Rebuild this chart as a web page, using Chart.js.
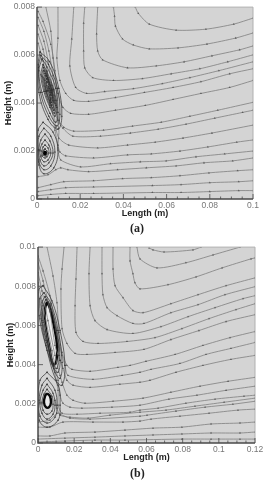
<!DOCTYPE html>
<html>
<head>
<meta charset="utf-8">
<script src="https://cdn.jsdelivr.net/npm/chart.js@4"></script>
<style>
body { margin: 0; background: #fff; width: 266px; height: 480px; overflow: hidden; position: relative; filter: blur(0.4px); }
.plot { position: absolute; left: 0; width: 266px; height: 240px; }
.cap { position: absolute; font: bold 12px "Liberation Serif"; color: #222; }
</style>
</head>
<body>
<div class="plot" style="top:0"><canvas id="chartA"></canvas></div>
<div class="plot" style="top:240px"><canvas id="chartB"></canvas></div>
<div class="cap" style="left:130px;top:221px">(a)</div>
<div class="cap" style="left:130px;top:466px">(b)</div>
<script>
// tick labels
const xTicksA = [0, 0.02, 0.04, 0.06, 0.08, 0.1];
const yTicksA = [0, 0.002, 0.004, 0.006, 0.008];
const xTicksB = [0, 0.02, 0.04, 0.06, 0.08, 0.1, 0.12];
const yTicksB = [0, 0.002, 0.004, 0.006, 0.008, 0.01];

// streamlines (a), [x values, y values]
const a1 = [[.0455,.0469,.052,.0644,.0782,.0911,.1],[.008,.00774,.00729,.00704,.00708,.00729,.00754]];
const a2 = [[.0354,.0359,.0363,.0396,.0446,.052,.0653,.0787,.092,.1],[.008,.00762,.00721,.00667,.00642,.00626,.0063,.00646,.00671,.00692]];
const a3 = [[.0281,.0276,.0281,.0304,.0419,.0552,.0681,.081,.0938,.1],[.008,.00688,.00617,.0058,.00547,.00555,.00572,.00597,.00622,.00638]];
const a4 = [[.0221,.0216,.0216,.0221,.0258,.0354,.0488,.0621,.0754,.0883,.1],[.008,.00733,.00617,.00547,.00506,.00494,.00502,.00522,.00543,.00572,.00601]];
const a5 = [[.017,.0161,.0152,.0179,.023,.0313,.0446,.058,.0708,.0842,.1],[.008,.00667,.00555,.00465,.0044,.00448,.0046,.00481,.00506,.00535,.00572]];
const a6 = [[.0097,.0097,.0092,.0106,.0133,.017,.0239,.0363,.0497,.063,.0759,.0892,.1],[.008,.00671,.00588,.00494,.0044,.00411,.00407,.00423,.00444,.00465,.00489,.00522,.00543]];
const a7 = [[.0041,.0064,.0074,.0097,.012,.0156,.0239,.0363,.0501,.063,.0759,.0892,.1],[.008,.007,.00588,.0044,.00382,.00357,.00353,.0037,.0039,.00415,.0044,.00465,.00494]];
const a8 = [[.0005,.0028,.0064,.0083,.0092,.0101,.0124,.017,.0308,.0442,.0575,.0708,.0837,.1],[.00782,.0074,.00645,.00535,.00411,.00328,.00299,.00283,.00287,.00304,.0032,.00345,.0037,.00403]];
const a9 = [[.0005,.0032,.0055,.0074,.0083,.0097,.012,.0166,.0294,.0432,.0561,.069,.0823,.0952,.1],[.00757,.00699,.00617,.00514,.00411,.00328,.00295,.00262,.00262,.00275,.00291,.00312,.00337,.00361,.0037]];
const a10 = [[.0005,.0032,.0051,.0069,.0078,.0087,.0101,.0147,.0281,.0419,.0547,.0676,.081,.1],[.00724,.00658,.00576,.00473,.0037,.00299,.00254,.00225,.00213,.00225,.00237,.00254,.00275,.00308]];
const a11 = [[.0005,.0028,.0046,.0064,.0083,.0097,.0106,.0133,.0262,.0419,.0529,.0662,.0791,.0925,.1],[.00687,.00625,.00535,.00411,.00287,.00225,.00196,.0018,.00171,.00184,.00188,.002,.00217,.00237,.00246]];
const a12 = [[.0005,.0028,.0064,.0101,.0097,.011,.0202,.034,.0478,.0598,.0736,.0869,.1],[.0065,.00576,.00432,.00295,.00213,.00163,.00134,.00147,.00155,.00159,.00176,.00188,.002]];
const a13 = [[.0005,.0051,.0087,.011,.0143,.0239,.0373,.0506,.0644,.0773,.0906,.1],[.00093,.00101,.00122,.0013,.00122,.00114,.00122,.0013,.00138,.00151,.00159,.00171]];
const a14 = [[.0005,.0064,.0124,.0262,.0396,.0529,.0662,.0796,.0929,.1],[.00047,.0006,.00072,.00076,.00085,.00089,.00097,.00109,.00118,.00122]];
const a15 = [[.0005,.0064,.0133,.0262,.0534,.0667,.08,.0934,.1],[.00031,.00039,.00047,.0005,.00056,.0006,.00068,.00072,.00076]];
const a16 = [[.0005,.0064,.0133,.0262,.0534,.0667,.08,.0934,.1],[.00014,.00019,.00023,.00023,.00027,.00027,.00031,.00035,.00035]];
const linesA = [a1,a2,a3,a4,a5,a6,a7,a8,a9,a10,a11,a12,a13,a14,a15,a16];

// closed rings of the two vortices (a)
const ra0 = [[.0018,.0053,.0094,.0106,.0092,.0055,.0016,.0007],[.00598,.00561,.00461,.00353,.00305,.00345,.00444,.00548]];
const ra1 = [[.0014,.0059,.0101,.0115,.0097,.0051,.0009,.0005],[.00613,.00572,.00461,.00345,.00291,.00332,.00444,.0056]];
const ra2 = [[.0023,.0046,.0087,.0097,.0087,.006,.0023,.0009],[.00584,.00551,.00461,.00361,.0032,.00357,.00444,.00535]];
const ra3 = [[.0028,.0046,.0078,.0092,.0083,.006,.0032,.0018],[.0056,.00531,.00456,.00382,.00345,.00382,.00448,.00518]];
const ra4 = [[.0032,.0046,.0069,.0083,.0078,.006,.0041,.0028],[.00535,.00514,.00456,.00399,.0037,.00399,.00448,.00506]];
const ra5 = [[.0041,.0051,.0067,.0074,.0069,.006,.0044,.0037],[.00514,.00498,.00454,.00411,.0039,.00411,.0045,.00494]];
const ra6 = [[.0046,.0055,.0062,.0069,.0064,.006,.0051,.0046],[.00489,.00477,.00452,.00432,.00415,.00432,.00452,.00473]];
const ra7 = [[.003,.0046,.0074,.0088,.008,.006,.0037,.0023],[.00548,.00522,.00456,.0039,.00358,.0039,.00448,.00512]];
const ra8 = [[.0037,.0049,.0068,.0078,.0074,.006,.0043,.0033],[.00524,.00506,.00455,.00405,.0038,.00405,.00449,.005]];
const ra9 = [[.0044,.0053,.0065,.0072,.0067,.006,.0048,.0042],[.00502,.00488,.00453,.00422,.00403,.00422,.00451,.00484]];
const ra10 = [[.0052,.0058,.0062,.0065,.0063,.006,.0055,.0052],[.00468,.0046,.00452,.00444,.00436,.00444,.00452,.0046]];
const rb1 = [[.0028,.0074,.0097,.0078,.0032,.0009,.0005,.0005],[.0032,.00279,.00204,.0013,.00105,.00142,.00204,.00287]];
const rb2 = [[.0032,.0064,.0083,.0064,.0032,.0009,.0005,.0009],[.00295,.00262,.00196,.00138,.00122,.00155,.00204,.00262]];
const rb3 = [[.0037,.006,.0074,.0055,.0032,.0014,.0009,.0018],[.00271,.00242,.00192,.00151,.00138,.00163,.00204,.00246]];
const rb4 = [[.0037,.0055,.0064,.0051,.0032,.0018,.0014,.0023],[.00246,.00225,.00192,.00163,.00155,.00176,.00204,.00229]];
const rb5 = [[.0037,.0051,.0055,.0046,.0037,.0023,.0023,.0028],[.00225,.00213,.00192,.00176,.00171,.0018,.002,.00217]];
const rb6 = [[.0037,.0046,.0046,.0041,.0037,.0028,.0028,.0032],[.00209,.002,.00188,.0018,.0018,.00184,.00196,.00204]];
const ringsA = [ra0,ra1,ra2,ra3,ra4,ra5,ra6,ra7,ra8,ra9,ra10,rb1,rb2,rb3,rb4,rb5,rb6];
const coreA = [[.0037],[.00192]];

// streamlines (b)
const m1 = [[.0614,.0636,.0697,.0857,.0901],[.00996,.00986,.00975,.00986,.01]];
const m2 = [[.0547,.0564,.0658,.0818,.0968,.1117],[.01,.0094,.00894,.0092,.0096,.01]];
const m3 = [[.0509,.0509,.0525,.0536,.0564,.0719,.0874,.1018,.1178,.12],[.01,.0093,.00864,.00818,.00787,.00808,.00848,.00894,.0094,.00945]];
const m4 = [[.0415,.0415,.0426,.047,.0525,.0581,.0735,.0885,.104,.12],[.01,.00889,.00803,.00742,.00676,.00665,.00711,.00757,.00803,.00843]];
const m5 = [[.0354,.0354,.0359,.0382,.0437,.0525,.0586,.0735,.0885,.1034,.12],[.01,.00864,.00757,.00691,.0065,.0061,.0061,.00665,.00706,.00757,.00798]];
const m6 = [[.0288,.0282,.0288,.0315,.0382,.0525,.068,.083,.0979,.1134,.12],[.01,.00864,.00701,.00625,.00579,.00559,.00594,.00645,.00691,.00737,.00752]];
const m7 = [[.0216,.021,.0205,.021,.0249,.0332,.0492,.0647,.0796,.0946,.1095,.12],[.01,.00838,.00701,.00564,.00518,.00508,.00518,.00538,.00584,.00635,.00681,.00711]];
const m8 = [[.0144,.0133,.0127,.0133,.016,.0205,.0271,.0426,.0586,.0735,.089,.104,.12],[.01,.00889,.00787,.00584,.00508,.00457,.00452,.00462,.00478,.00528,.00574,.0062,.00655]];
const m9 = [[.005,.0083,.0105,.0116,.0133,.016,.0188,.0288,.0442,.0509,.0597,.0758,.0912,.1062,.12],[.01,.00853,.00716,.00564,.00462,.00396,.00376,.00366,.00386,.00396,.00417,.00452,.00498,.00538,.00569]];
const m10 = [[0,.0028,.0066,.01,.0133,.0149,.0166,.0304,.0465,.0564,.0625,.0785,.0929,.1067,.12],[.00955,.00879,.00752,.00574,.00447,.00396,.00345,.00325,.00345,.00361,.00376,.00406,.00452,.00483,.00513]];
const m11 = [[0,.0028,.0066,.0094,.0122,.0138,.016,.0194,.0288,.0453,.0564,.0619,.0763,.0912,.1067,.12],[.00919,.00828,.00676,.00498,.00422,.00381,.0032,.00295,.00284,.003,.0031,.0032,.00361,.00396,.00427,.00447]];
const m12 = [[0,.0022,.0055,.0094,.0122,.0133,.016,.0194,.026,.0415,.0581,.0735,.0896,.1051,.12],[.00869,.00777,.00625,.00447,.00345,.0031,.00244,.00218,.00203,.00213,.00229,.00259,.0029,.00315,.00335]];
const m13 = [[0,.0022,.0077,.0111,.0122,.0138,.0177,.0243,.0409,.0564,.0724,.0879,.104,.12],[.00818,.00726,.00472,.0032,.00244,.00203,.00183,.00178,.00183,.00193,.00224,.00244,.00269,.0029]];
const m14 = [[0,.0033,.0077,.0111,.0111,.0133,.0216,.0343,.0509,.0564,.0664,.0818,.0979,.1139,.12],[.00767,.00625,.00422,.00269,.00193,.00152,.00147,.00152,.00157,.00168,.00178,.00203,.00224,.00239,.00244]];
const m15 = [[.0094,.0105,.0122,.0177,.0277,.0398,.0564,.0708,.0868,.1029,.12],[.00218,.00178,.00142,.00132,.00127,.00142,.00157,.00168,.00188,.00208,.00229]];
const m16 = [[0,.0066,.0105,.0122,.0177,.0288,.0564,.0603,.0763,.0924,.1078,.12],[.00107,.00117,.00152,.00147,.00127,.00122,.00137,.00142,.00163,.00183,.00198,.00213]];
const m17 = [[0,.0066,.0138,.0304,.047,.0564,.0625,.0785,.0946,.1106,.12],[.00081,.00081,.00107,.00107,.00107,.00112,.00122,.00137,.00152,.00168,.00173]];
const m18 = [[0,.0066,.0149,.0315,.0481,.0636,.0796,.0957,.1117,.12],[.00036,.00036,.00051,.00056,.00066,.00076,.00081,.00097,.00102,.00107]];
const m19 = [[0,.0149,.0315,.0481,.0636,.0796,.0957,.1117,.12],[.0002,.00025,.0003,.00036,.00041,.00046,.00051,.00051,.00056]];
const m20 = [[0,.0149,.0315,.0481,.0796,.0957,.1117,.12],[.00005,.0001,.00015,.00015,.0002,.0002,.0002,.0002]];
const linesB = [m1,m2,m3,m4,m5,m6,m7,m8,m9,m10,m11,m12,m13,m14,m15,m16,m17,m18,m19,m20];

// rings (b)
const d1 = [[.0028,.0077,.0122,.0149,.0133,.01,.005,.0006,0],[.00803,.00726,.00574,.00396,.00295,.0032,.00472,.0065,.00777]];
const d2 = [[.0033,.0072,.0111,.0133,.0122,.0094,.0044,.0017,.0011],[.00767,.00711,.00574,.00411,.0033,.00361,.00498,.00635,.00737]];
const d3 = [[.0039,.0066,.0105,.0122,.0111,.0088,.0044,.0022,.0022],[.00747,.00706,.00574,.00422,.00361,.00381,.00523,.00625,.00716]];
const d4 = [[.0044,.0066,.01,.0116,.0105,.0088,.005,.0028,.0028],[.00732,.00701,.00574,.00447,.00381,.00391,.00513,.00615,.00701]];
const f1 = [[.005,.0111,.0122,.0111,.005,.0006,0,.0011],[.00361,.00295,.00193,.00117,.00081,.00117,.00218,.0032]];
const f2 = [[.005,.0094,.0105,.0094,.005,.0011,.0006,.0022],[.0033,.00269,.00193,.00132,.00102,.00137,.00218,.00295]];
const f3 = [[.005,.0083,.0094,.0083,.005,.0022,.0011,.0028],[.003,.00254,.00193,.00147,.00122,.00152,.00208,.00269]];
const f4 = [[.005,.0077,.0083,.0077,.005,.0028,.0022,.0033],[.00274,.00239,.00198,.00163,.00147,.00168,.00208,.00249]];
const ringsB = [d1,d2,d3,d4,f1,f2,f3,f4];
const coreB1 = [[.005,.0066,.0088,.0105,.01,.0083,.0061,.0039,.0039],[.00721,.00686,.00599,.00498,.00411,.00401,.00498,.00615,.00686]];
const coreB2 = [[.005,.0066,.0072,.0061,.0044,.0033,.0039],[.00254,.00239,.00208,.00183,.00183,.00208,.00239]];

function pts(line, closed) {
    let out = line[0].map((x, i) => ({x: x, y: line[1][i]}));
    if (closed) out.push(out[0]);
    return out;
}

function lineSet(line) {
    return {data: pts(line), showLine: true, borderColor: '#7a7a7a', borderWidth: 0.75, tension: 0.25,
        pointStyle: 'triangle', pointRadius: 1.2, pointBackgroundColor: '#5a5a5a', pointBorderWidth: 0};
}
function ringSet(line) {
    return {data: pts(line, true), showLine: true, borderColor: '#2e2e2e', borderWidth: 0.7, tension: 0.4,
        pointStyle: 'triangle', pointRadius: 1.1, pointBackgroundColor: '#333', pointBorderWidth: 0};
}
function coreSet(line) {
    return {data: pts(line, true), showLine: true, borderColor: '#0a0a0a', borderWidth: 2.4, tension: 0.4, pointRadius: 0,
        fill: 'shape', backgroundColor: '#ececec'};
}

// inward ticks and the frame, tecplot style
const framePlugin = {
    id: 'frame',
    beforeDatasetsDraw(chart) {
        const a = chart.chartArea, c = chart.ctx;
        c.fillStyle = '#d4d4d4';
        c.fillRect(a.left, a.top, a.right - a.left, a.bottom - a.top);
    },
    afterDatasetsDraw(chart) {
        const a = chart.chartArea, c = chart.ctx, sx = chart.scales.x, sy = chart.scales.y;
        c.save();
        c.strokeStyle = '#b0b0b0'; c.lineWidth = 1;
        c.beginPath();
        c.moveTo(a.left, a.top); c.lineTo(a.right, a.top); c.lineTo(a.right, a.bottom);
        c.stroke();
        c.strokeStyle = '#4a4a4a'; c.lineWidth = 1.5;
        c.beginPath();
        c.moveTo(a.left, a.top); c.lineTo(a.left, a.bottom); c.lineTo(a.right, a.bottom);
        c.stroke();
        c.lineWidth = 0.8;
        c.beginPath();
        for (let v = 0; v <= sx.max + 1e-9; v += 0.005) {
            let major = Math.abs(v / 0.02 - Math.round(v / 0.02)) < 1e-6;
            let p = sx.getPixelForValue(v);
            c.moveTo(p, a.bottom); c.lineTo(p, a.bottom - (major ? 5 : 2.5));
        }
        for (let v = 0; v <= sy.max + 1e-9; v += 0.002) {
            let p = sy.getPixelForValue(v);
            c.moveTo(a.left, p); c.lineTo(a.left + 5, p);
        }
        c.stroke();
        c.restore();
    }
};

function makeChart(id, datasets, xTicks, yTicks, xMax, yMax, pad, yWidth) {
    return new Chart(document.getElementById(id), {
        type: 'scatter',
        data: {datasets: datasets},
        plugins: [framePlugin],
        options: {
            responsive: false,
            animation: false,
            layout: {autoPadding: false, padding: pad},
            plugins: {legend: {display: false}, tooltip: {enabled: false}},
            scales: {
                x: {
                    min: 0, max: xMax,
                    grid: {display: false, drawTicks: false}, border: {display: false},
                    afterBuildTicks: s => { s.ticks = xTicks.map(v => ({value: v})); },
                    afterFit: s => { s.height = 20; },
                    ticks: {color: '#777', padding: 2, maxRotation: 0, autoSkip: false, font: {family: 'Liberation Sans', size: 8.5},
                        callback: v => String(v)},
                    title: {display: true, text: 'Length (m)', color: '#222', padding: 0,
                        font: {family: 'Liberation Sans', size: 9, weight: 'bold'}}
                },
                y: {
                    min: 0, max: yMax,
                    grid: {display: false, drawTicks: false}, border: {display: false},
                    afterBuildTicks: s => { s.ticks = yTicks.map(v => ({value: v})); },
                    afterFit: s => { s.width = yWidth; },
                    ticks: {color: '#777', padding: 2, autoSkip: false, font: {family: 'Liberation Sans', size: 8.5},
                        callback: v => String(v)},
                    title: {display: true, text: 'Height (m)', color: '#222', padding: 0,
                        font: {family: 'Liberation Sans', size: 9, weight: 'bold'}}
                }
            }
        }
    });
}

document.getElementById('chartA').width = 266; document.getElementById('chartA').height = 240;
document.getElementById('chartB').width = 266; document.getElementById('chartB').height = 240;

const setsA = ringsA.map(ringSet).concat(linesA.map(lineSet));
setsA.push({data: pts(coreA), pointRadius: 2.2, pointBackgroundColor: '#000', pointBorderWidth: 0, showLine: false});
makeChart('chartA', setsA, xTicksA, yTicksA, 0.1, 0.008,
    {left: 3, top: 6, right: 13, bottom: 21}, 34);

const setsB = ringsB.map(ringSet).concat(linesB.map(lineSet));
setsB.push(coreSet(coreB1), coreSet(coreB2));
makeChart('chartB', setsB, xTicksB, yTicksB, 0.12, 0.01,
    {left: 5, top: 6, right: 11, bottom: 17}, 33);
</script>
</body>
</html>
